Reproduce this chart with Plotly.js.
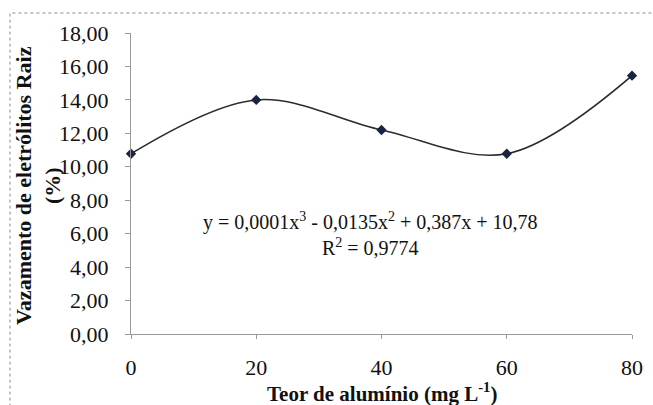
<!DOCTYPE html>
<html>
<head>
<meta charset="utf-8">
<script src="https://cdn.plot.ly/plotly-3.0.1.min.js"></script>
<style>html,body{margin:0;padding:0;background:#fff;}#chart{width:653px;height:405px;}</style>
</head>
<body>
<div id="chart"></div>
<script>
const teorAluminio = [0, 20, 40, 60, 80];
const vazamento = [10.78, 14.0, 12.2, 10.78, 15.45];
const xTicks = [0, 20, 40, 60, 80];
const yTicks = [0, 2, 4, 6, 8, 10, 12, 14, 16, 18];
const yTickLabels = ["0,00", "2,00", "4,00", "6,00", "8,00", "10,00", "12,00", "14,00", "16,00", "18,00"];
const equationText = "y = 0,0001x<sup>3</sup> - 0,0135x<sup>2</sup> + 0,387x + 10,78";
const r2Text = "R<sup>2</sup> = 0,9774";
const xTitle = "<b>Teor de alumínio (mg L<sup>-1</sup>)</b>";
const yTitle = "<b>Vazamento de eletrólitos Raiz<br>(%)</b>";

const serif = "Liberation Serif";

const trace = {
  x: teorAluminio,
  y: vazamento,
  type: 'scatter',
  mode: 'lines+markers',
  line: {shape: 'spline', smoothing: 1.0, color: '#2b2b2b', width: 1.5},
  marker: {symbol: 'diamond', size: 8, color: '#1a2340'},
  hoverinfo: 'skip',
  cliponaxis: false
};

const layout = {
  width: 653,
  height: 405,
  margin: {l: 131, r: 21, t: 33, b: 71},
  paper_bgcolor: '#ffffff',
  plot_bgcolor: '#ffffff',
  showlegend: false,
  font: {family: serif, color: '#111111'},
  xaxis: {
    range: [0, 80],
    tickvals: xTicks,
    ticktext: xTicks.map(String),
    showgrid: false,
    zeroline: false,
    showline: true,
    linecolor: '#999999',
    linewidth: 1,
    ticks: 'outside',
    ticklen: 4,
    tickcolor: '#999999',
    ticklabelstandoff: 10,
    tickfont: {family: serif, size: 22, color: '#111111'}
  },
  yaxis: {
    range: [0, 18],
    tickvals: yTicks,
    ticktext: yTickLabels,
    showgrid: false,
    zeroline: false,
    showline: true,
    linecolor: '#999999',
    linewidth: 1,
    ticks: 'outside',
    ticklen: 5,
    tickcolor: '#999999',
    ticklabelstandoff: 12,
    tickfont: {family: serif, size: 22, color: '#111111'}
  },
  annotations: [
    {xref: 'x', yref: 'y', x: 38.2, y: 6.7, text: equationText, showarrow: false,
     font: {family: serif, size: 20, color: '#111111'}, xanchor: 'center', yanchor: 'middle'},
    {xref: 'x', yref: 'y', x: 38.2, y: 5.2, text: r2Text, showarrow: false,
     font: {family: serif, size: 20, color: '#111111'}, xanchor: 'center', yanchor: 'middle'},
    {xref: 'paper', yref: 'paper', x: 0.5, y: -0.196, text: xTitle, showarrow: false,
     font: {family: serif, size: 21, color: '#111111'}, xanchor: 'center', yanchor: 'middle'},
    {xref: 'paper', yref: 'paper', x: (38 - 131) / 501, y: 0.4917, text: yTitle, showarrow: false, textangle: -90,
     font: {family: serif, size: 22, color: '#111111'}, xanchor: 'center', yanchor: 'middle'}
  ],
  shapes: [
    {type: 'rect', xref: 'paper', yref: 'paper', x0: -0.2415, x1: 1.06, y0: -0.3, y1: 1.0664,
     line: {color: '#8a8a8a', width: 1, dash: 'dot'}, fillcolor: 'rgba(0,0,0,0)', layer: 'below'}
  ]
};

Plotly.newPlot('chart', [trace], layout, {displayModeBar: false, staticPlot: true});
</script>
</body>
</html>
